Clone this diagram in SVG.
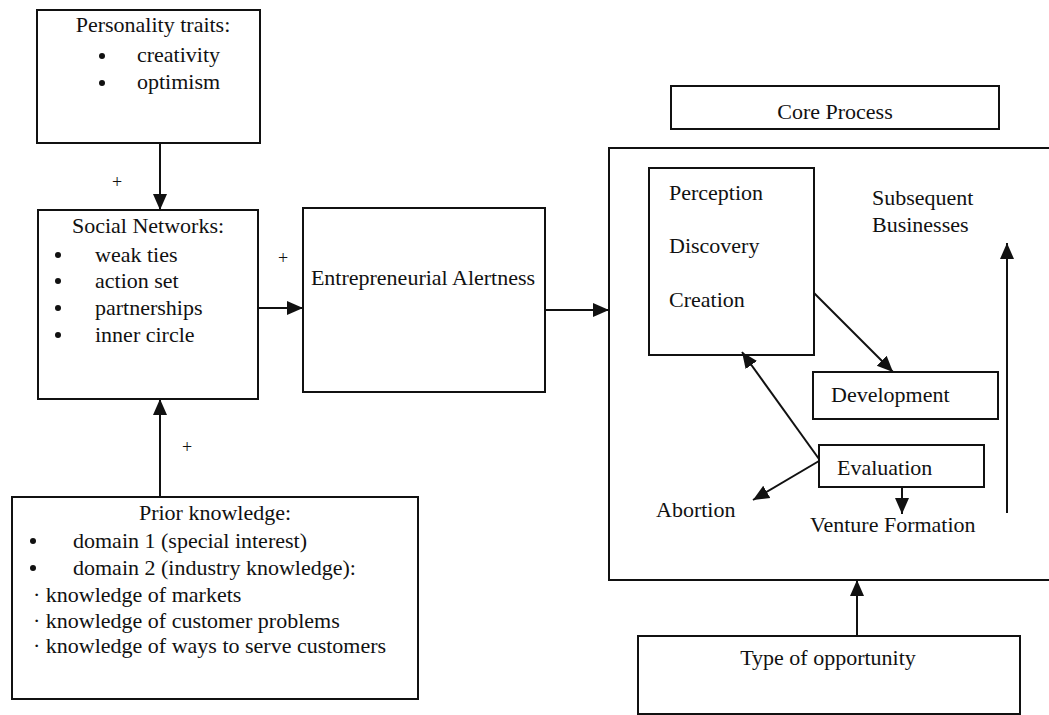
<svg xmlns="http://www.w3.org/2000/svg" width="1049" height="715" viewBox="0 0 1049 715">
<style>
.box{fill:#fff;stroke:#111;stroke-width:2}
.ln{stroke:#111;stroke-width:2;fill:none}
text{font-family:"Liberation Serif","Times New Roman",serif;font-size:22px;fill:#111}
.c{text-anchor:middle}
.p{font-size:18px}
</style>
<defs>
<marker id="a" viewBox="0 0 16 16" refX="16" refY="8" markerWidth="16" markerHeight="16" markerUnits="userSpaceOnUse" orient="auto">
<path d="M0,1 L16,8 L0,15 Z" fill="#111"/>
</marker>
</defs>
<rect width="1049" height="715" fill="#fff"/>

<g id="personality">
<rect class="box" x="37" y="10" width="223" height="133"/>
<text class="c" x="153" y="32">Personality traits:</text>
<circle cx="102" cy="56" r="3" fill="#111"/>
<text x="137" y="62">creativity</text>
<circle cx="102" cy="83" r="3" fill="#111"/>
<text x="137" y="89">optimism</text>
</g>

<g id="social">
<rect class="box" x="38" y="210" width="220" height="189"/>
<text class="c" x="148" y="233">Social Networks:</text>
<circle cx="58" cy="255" r="3" fill="#111"/>
<text x="95" y="262">weak ties</text>
<circle cx="58" cy="281" r="3" fill="#111"/>
<text x="95" y="288">action set</text>
<circle cx="58" cy="308" r="3" fill="#111"/>
<text x="95" y="315">partnerships</text>
<circle cx="58" cy="335" r="3" fill="#111"/>
<text x="95" y="342">inner circle</text>
</g>

<g id="prior">
<rect class="box" x="12" y="497" width="406" height="202"/>
<text class="c" x="215" y="520">Prior knowledge:</text>
<circle cx="33" cy="541" r="3" fill="#111"/>
<text x="73" y="548">domain 1 (special interest)</text>
<circle cx="33" cy="568" r="3" fill="#111"/>
<text x="73" y="575">domain 2 (industry knowledge):</text>
<text x="33" y="602">· knowledge of markets</text>
<text x="33" y="628">· knowledge of customer problems</text>
<text x="33" y="653">· knowledge of ways to serve customers</text>
</g>

<g id="alertness">
<rect class="box" x="303" y="208" width="242" height="184"/>
<text class="c" x="423" y="285">Entrepreneurial Alertness</text>
</g>

<g id="coreprocess">
<rect class="box" x="671" y="86" width="328" height="43"/>
<text class="c" x="835" y="119">Core Process</text>
</g>

<g id="outer">
<rect class="box" x="609" y="148" width="450" height="432"/>
</g>

<g id="pdc">
<rect class="box" x="649" y="168" width="165" height="187"/>
<text x="669" y="200">Perception</text>
<text x="669" y="253">Discovery</text>
<text x="669" y="307">Creation</text>
</g>

<g id="subsequent">
<text x="872" y="205">Subsequent</text>
<text x="872" y="232">Businesses</text>
</g>

<g id="development">
<rect class="box" x="813" y="372" width="185" height="47"/>
<text x="831" y="402">Development</text>
</g>

<g id="evaluation">
<rect class="box" x="819" y="445" width="165" height="42"/>
<text x="837" y="475">Evaluation</text>
</g>

<g id="abortion">
<text x="656" y="517">Abortion</text>
</g>

<g id="venture">
<text x="810" y="532">Venture Formation</text>
</g>

<g id="opportunity">
<rect class="box" x="638" y="636" width="382" height="78"/>
<text class="c" x="828" y="665">Type of opportunity</text>
</g>

<g id="connectors">
<line class="ln" x1="160" y1="143" x2="160" y2="210" marker-end="url(#a)"/>
<line class="ln" x1="160" y1="497" x2="160" y2="399" marker-end="url(#a)"/>
<line class="ln" x1="258" y1="308" x2="303" y2="308" marker-end="url(#a)"/>
<line class="ln" x1="545" y1="310" x2="609" y2="310" marker-end="url(#a)"/>
<line class="ln" x1="814" y1="293" x2="893" y2="372" marker-end="url(#a)"/>
<line class="ln" x1="819" y1="459" x2="742" y2="352" marker-end="url(#a)"/>
<line class="ln" x1="819" y1="461" x2="753" y2="500" marker-end="url(#a)"/>
<line class="ln" x1="902" y1="487" x2="902" y2="514" marker-end="url(#a)"/>
<line class="ln" x1="1007" y1="513" x2="1007" y2="243" marker-end="url(#a)"/>
<line class="ln" x1="857" y1="636" x2="857" y2="580" marker-end="url(#a)"/>
<text class="c p" x="117" y="188">+</text>
<text class="c p" x="283" y="264">+</text>
<text class="c p" x="187" y="453">+</text>
</g>
</svg>
